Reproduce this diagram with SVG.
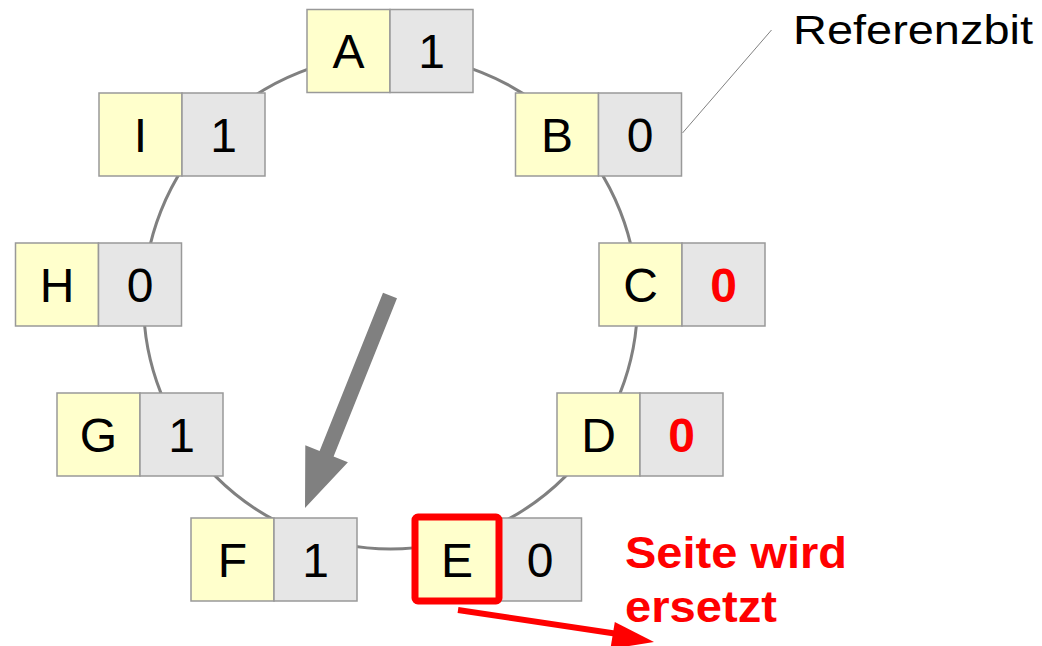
<svg xmlns="http://www.w3.org/2000/svg" width="1042" height="646" viewBox="0 0 1042 646">
<style>
.y{fill:#ffffcc;stroke:#999999;stroke-width:1.5}
.g{fill:#e6e6e6;stroke:#999999;stroke-width:1.5}
.t{font-family:"Liberation Sans",Arial,sans-serif;font-size:48px;fill:#000000;text-anchor:middle}
.r{font-weight:bold;fill:#ff0000}
</style>
<rect width="1042" height="646" fill="#ffffff"/>
<g id="connectors">
<circle cx="390.5" cy="302" r="247" fill="none" stroke="#808080" stroke-width="3"/>
<line x1="682.5" y1="133" x2="771.5" y2="30" stroke="#808080" stroke-width="1"/>
<polygon points="383,292.7 397,298.3 333.6,456.5 347.9,462.2 305,508 305.3,445.2 319.6,450.9" fill="#808080"/>
<line x1="458" y1="610" x2="618" y2="634" stroke="#ff0000" stroke-width="6"/>
<polygon points="654,642 614.8,622 610.4,649" fill="#ff0000"/>
</g>
<g id="A"><rect class="y" x="307" y="9.5" width="83" height="83"/><rect class="g" x="390" y="9.5" width="83" height="83"/><text class="t" x="348.5" y="68">A</text><text class="t" x="431.5" y="68">1</text></g>
<g id="B"><rect class="y" x="515.5" y="93" width="83" height="83"/><rect class="g" x="598.5" y="93" width="83" height="83"/><text class="t" x="557" y="151.5">B</text><text class="t" x="640" y="151.5">0</text></g>
<g id="C"><rect class="y" x="599" y="243" width="83" height="83"/><rect class="g" x="682" y="243" width="83" height="83"/><text class="t" x="640.5" y="301.5">C</text><text class="t r" x="723.5" y="301.5">0</text></g>
<g id="D"><rect class="y" x="557" y="393" width="83" height="83"/><rect class="g" x="640" y="393" width="83" height="83"/><text class="t" x="598.5" y="451.5">D</text><text class="t r" x="681.5" y="451.5">0</text></g>
<g id="E"><rect class="y" x="415.5" y="518" width="83" height="83"/><rect class="g" x="498.5" y="518" width="83" height="83"/><rect x="415" y="517" width="84" height="84" rx="3" fill="none" stroke="#ff0000" stroke-width="7"/><text class="t" x="457" y="576.5">E</text><text class="t" x="540" y="576.5">0</text></g>
<g id="F"><rect class="y" x="191" y="518" width="83" height="83"/><rect class="g" x="274" y="518" width="83" height="83"/><text class="t" x="232.5" y="576.5">F</text><text class="t" x="315.5" y="576.5">1</text></g>
<g id="G"><rect class="y" x="57" y="393" width="83" height="83"/><rect class="g" x="140" y="393" width="83" height="83"/><text class="t" x="98.5" y="451.5">G</text><text class="t" x="181.5" y="451.5">1</text></g>
<g id="H"><rect class="y" x="15.5" y="243" width="83" height="83"/><rect class="g" x="98.5" y="243" width="83" height="83"/><text class="t" x="57" y="301.5">H</text><text class="t" x="140" y="301.5">0</text></g>
<g id="I"><rect class="y" x="99" y="93" width="83" height="83"/><rect class="g" x="182" y="93" width="83" height="83"/><text class="t" x="140.5" y="151.5">I</text><text class="t" x="223.5" y="151.5">1</text></g>
<g id="labels">
<text x="793" y="44" font-family="'Liberation Sans',Arial,sans-serif" font-size="40" textLength="240" lengthAdjust="spacingAndGlyphs">Referenzbit</text>
<text x="625" y="568" font-family="'Liberation Sans',Arial,sans-serif" font-size="45" font-weight="bold" fill="#ff0000" textLength="222" lengthAdjust="spacingAndGlyphs">Seite wird</text>
<text x="625" y="622" font-family="'Liberation Sans',Arial,sans-serif" font-size="45" font-weight="bold" fill="#ff0000" textLength="152" lengthAdjust="spacingAndGlyphs">ersetzt</text>
</g>
</svg>
